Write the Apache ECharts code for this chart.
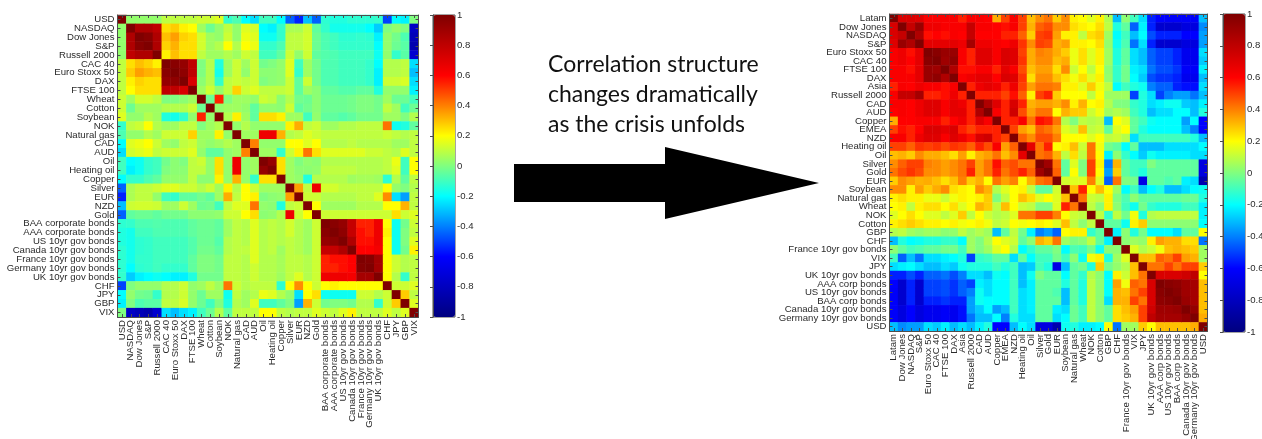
<!DOCTYPE html>
<html>
<head>
<meta charset="utf-8">
<title>Correlation structure</title>
<style>
  html, body { margin: 0; padding: 0; background: #fff; }
  #chart { width: 1262px; height: 439px; }
</style>
<script src="https://cdn.jsdelivr.net/npm/echarts@6/dist/echarts.min.js"></script>
</head>
<body>
<div id="chart"></div>
<script>
// left panel: assets in the order of the picture
var leftLabels = ['USD','NASDAQ','Dow Jones','S&P','Russell 2000','CAC 40','Euro Stoxx 50','DAX','FTSE 100','Wheat','Cotton','Soybean','NOK','Natural gas','CAD','AUD','Oil','Heating oil','Copper','Silver','EUR','NZD','Gold','BAA corporate bonds','AAA corporate bonds','US 10yr gov bonds','Canada 10yr gov bonds','France 10yr gov bonds','Germany 10yr gov bonds','UK 10yr gov bonds','CHF','JPY','GBP','VIX'];
// right panel
var rightLabels = ['Latam','Dow Jones','NASDAQ','S&P','Euro Stoxx 50','CAC 40','FTSE 100','DAX','Asia','Russell 2000','CAD','AUD','Copper','EMEA','NZD','Heating oil','Oil','Silver','Gold','EUR','Soybean','Natural gas','Wheat','NOK','Cotton','GBP','CHF','France 10yr gov bonds','VIX','JPY','UK 10yr gov bonds','AAA corp bonds','US 10yr gov bonds','BAA corp bonds','Canada 10yr gov bonds','Germany 10yr gov bonds','USD'];
var barTicks = [-1, -0.8, -0.6, -0.4, -0.2, 0, 0.2, 0.4, 0.6, 0.8, 1];

// correlations above the diagonal, one row per asset
var leftUpper = [
  [.03,.03,.03,.03,.1,.1,.1,.1,.12,.12,.15,-.12,-.08,-.2,-.25,-.1,-.1,-.2,-.45,-.55,-.3,-.45,-.13,-.15,-.15,-.13,-.13,-.13,-.12,-.5,-.2,-.22,0],
  [.85,.85,.8,.25,.28,.22,.2,.05,-.03,.03,.1,.03,.15,.13,-.2,-.22,-.12,.07,.07,.12,-.05,-.12,-.17,-.17,-.17,-.17,-.2,-.28,0,.03,0,-.78],
  [.97,.85,.3,.35,.27,.25,.13,.05,.03,.12,.03,.17,.15,-.18,-.18,-.12,.1,.1,.13,-.03,-.08,-.1,-.13,-.13,-.12,-.13,-.22,.03,-.02,-.08,-.82],
  [.85,.27,.32,.25,.25,.13,.05,.08,.2,.08,.2,.17,-.12,-.12,-.08,.1,.1,.13,-.03,-.08,-.1,-.12,-.12,-.12,-.12,-.2,.03,-.03,-.06,-.85],
  [.22,.3,.25,.25,.1,.05,.05,.08,.05,.12,.1,-.1,-.1,-.05,.12,.03,.12,-.05,-.07,-.08,-.1,-.1,-.1,-.1,-.18,.03,-.12,-.06,-.75],
  [.97,.93,.8,0,.08,-.15,.05,.12,.05,.12,-.02,0,.03,.15,-.1,.05,-.02,-.08,-.08,-.1,-.1,-.1,-.12,-.2,.08,.08,.1,-.25],
  [.95,.8,0,.08,-.17,.05,.12,.03,.12,.02,.02,.03,.15,-.12,.05,-.02,-.08,-.08,-.1,-.1,-.1,-.12,-.22,.08,.08,.1,-.3],
  [.72,.02,.08,-.12,.1,.12,.1,.12,0,.02,.03,.12,-.05,.12,-.02,-.08,-.08,-.1,-.1,-.1,-.12,-.22,.12,.12,.14,-.25],
  [.05,.12,.03,.1,.27,.12,.15,.1,.1,.1,.12,-.05,.05,.02,-.05,-.05,-.07,-.07,-.05,-.05,-.15,.03,.03,.03,-.22],
  [-.03,.55,0,.05,.05,.03,.12,.1,.02,.08,-.02,-.03,.02,-.03,-.03,-.03,-.02,0,0,-.02,.05,-.03,-.03,-.1],
  [.03,.05,.05,.03,-.05,.03,.03,.02,.12,-.05,-.02,.02,-.03,-.03,-.03,-.02,0,0,-.02,.1,.05,-.1,-.03],
  [.08,.22,.05,-.05,.25,.25,.22,.05,.05,-.1,.03,-.05,-.05,-.07,-.05,-.02,-.02,-.02,.05,.05,0,.08],
  [.03,.08,.03,.03,.03,.03,.22,.33,.1,.12,.05,.05,.08,.08,.1,.1,.1,.42,-.18,-.15,-.05],
  [.05,.05,.65,.65,.32,.08,.1,.15,.12,.1,.1,.1,.1,.1,.1,.1,.12,.1,.08,.1],
  [.4,.03,.03,.03,.2,.2,.15,.2,.08,.08,.08,.1,.08,.08,.08,.08,.05,.05,.1],
  [.05,.05,-.12,.12,.22,.42,.25,.15,.15,.15,.15,.15,.12,.12,.1,.08,.15,.1],
  [.93,.25,.05,0,.03,.02,.08,.08,.08,.08,.08,.08,.08,.1,.17,-.1,.2],
  [.25,.05,.02,.02,.03,.1,.1,.1,.1,.08,.08,.08,.1,.15,-.1,.2],
  [.05,.03,-.15,.08,.08,.08,.08,.05,.06,.06,.05,-.13,.08,-.05,.1],
  [.35,.1,.65,.13,.13,.1,.1,.1,.1,.1,.2,.03,0,.08],
  [.12,.12,.08,.08,.08,.08,.1,.1,.15,.38,-.25,-.35,.1],
  [.2,.05,.05,.05,.05,.08,.08,.08,.2,.2,.32,.1],
  [.12,.12,.12,.12,.12,.12,.12,.12,.25,.12,.15],
  [.97,.93,.78,.55,.55,.65,.2,-.18,-.02,.12],
  [.95,.78,.58,.55,.65,.22,-.18,0,.1],
  [.85,.58,.58,.65,.2,-.18,0,.15],
  [.6,.6,.63,.2,-.18,-.02,.22],
  [.98,.88,.2,.12,.08,.1],
  [.88,.2,.12,.08,.1],
  [.2,.08,-.12,.1],
  [.12,.12,.15],
  [.28,.1],
  [.15]
];
var rightUpper = [
  [.72,.72,.7,.62,.62,.62,.62,.55,.62,.62,.6,.33,.5,.62,.5,.3,.38,.42,.28,.38,.22,.2,.15,.22,.08,-.3,.02,-.1,-.25,-.55,-.6,-.62,-.62,-.62,-.62,-.3],
  [.78,.92,.65,.65,.62,.62,.62,.78,.62,.62,.6,.58,.62,.5,.32,.45,.48,.38,.38,.25,.22,.2,.25,.1,-.15,-.05,-.45,-.22,-.55,-.75,-.75,-.75,-.7,-.7,-.38],
  [.85,.58,.6,.58,.62,.6,.78,.6,.6,.6,.55,.55,.45,.28,.5,.52,.35,.22,.22,.1,.25,.28,.05,-.2,-.1,-.3,-.2,-.48,-.55,-.55,-.55,-.6,-.6,-.35],
  [.68,.68,.68,.68,.65,.88,.65,.65,.62,.6,.65,.52,.38,.5,.48,.32,.35,.22,.22,.2,.25,.03,-.18,-.08,-.42,-.25,-.55,-.75,-.75,-.75,-.7,-.7,-.35],
  [.97,.92,.92,.62,.55,.7,.7,.62,.72,.7,.5,.33,.4,.38,.33,.28,.17,.25,.15,.22,.05,-.15,-.05,-.25,-.3,-.45,-.5,-.5,-.55,-.65,-.65,-.25],
  [.9,.95,.62,.55,.7,.7,.62,.72,.7,.52,.33,.38,.38,.3,.33,.17,.25,.15,.22,.05,-.15,-.05,-.25,-.3,-.45,-.5,-.5,-.55,-.65,-.65,-.28],
  [.85,.58,.58,.62,.62,.55,.68,.62,.48,.3,.35,.35,.25,.38,.12,.2,.1,.2,.02,-.12,-.02,-.22,-.25,-.42,-.48,-.48,-.52,-.62,-.62,-.22],
  [.62,.65,.68,.68,.6,.72,.7,.52,.25,.38,.38,.3,.25,.18,.25,.15,.22,.03,-.12,-.02,-.2,-.28,-.48,-.52,-.52,-.55,-.65,-.65,-.3],
  [.55,.65,.68,.65,.55,.65,.5,.35,.42,.42,.4,.22,.22,.15,.28,.18,.1,-.2,-.1,-.15,-.18,-.4,-.45,-.45,-.55,-.58,-.58,-.25],
  [.55,.55,.55,.5,.58,.45,.22,.5,.55,.28,.2,.2,.2,.1,.2,.05,.05,.05,-.5,-.15,-.25,-.5,-.4,-.35,-.35,-.42,-.3],
  [.85,.7,.55,.72,.55,.32,.35,.35,.32,.38,.22,.32,.2,.22,.08,0,0,-.12,-.15,-.25,-.22,-.18,-.18,-.28,-.3,-.22],
  [.62,.55,.75,.48,.35,.42,.42,.2,.32,.28,.28,.12,.18,.05,.08,.05,-.1,-.15,-.3,-.25,-.25,-.2,-.2,-.3,-.15],
  [.55,.55,.62,.42,.58,.55,.42,.08,0,.1,.08,.1,-.3,.2,.15,-.05,-.1,-.18,-.2,-.2,-.2,-.35,-.2,-.6],
  [.5,.35,.3,.45,.42,.35,.15,.1,.3,.1,.12,-.05,.15,.2,-.05,-.15,-.2,-.2,-.2,-.2,-.3,-.4,-.6],
  [.45,.38,.48,.48,.4,.2,.2,.2,.15,.2,.1,.12,.08,-.25,-.1,-.1,-.1,-.1,-.1,-.1,-.15,-.3],
  [.68,.42,.55,.2,.22,.3,.12,.42,.18,-.02,-.05,-.2,-.05,-.3,-.3,-.3,-.25,-.25,-.25,-.25,-.2],
  [.42,.45,.32,.1,.25,.1,.42,.2,-.22,.02,-.12,-.2,-.28,-.18,-.22,-.22,-.22,-.22,-.25,-.25],
  [.9,.42,-.05,.15,0,.5,.22,-.4,.32,-.05,-.1,-.1,0,-.05,-.05,-.05,-.05,-.05,-.7],
  [.45,-.05,.2,0,.5,.2,-.35,.28,-.05,-.1,-.15,-.05,-.05,-.05,-.05,-.05,-.05,-.7],
  [.13,.15,.15,.4,.15,-.45,.42,0,-.02,-.68,-.05,-.05,-.08,-.05,-.22,-.25,-.85],
  [.3,.55,.2,.3,.2,.05,-.2,-.1,-.3,-.2,-.15,-.3,-.3,-.25,-.2,-.18],
  [.42,.12,.1,.22,0,-.08,.02,-.05,-.05,-.05,-.05,-.05,-.03,-.03,-.15],
  [.1,.02,.22,.02,-.1,-.18,-.02,-.12,-.15,-.15,-.15,-.1,-.1,-.22],
  [.1,-.12,.1,-.02,.18,-.15,.08,.1,.1,.1,.1,.1,-.22],
  [-.05,-.05,-.18,.22,.28,.02,.02,.02,.02,.02,.02,-.2],
  [-.22,.02,-.15,-.02,-.2,-.2,-.2,-.25,-.05,-.05,.2],
  [.02,.05,.03,.22,.35,.32,.32,.25,.25,-.42],
  [.15,.08,.12,.18,.3,.32,.3,.28,.05],
  [.3,.3,.45,.42,.5,.35,.32,.05],
  [.42,.42,.5,.42,.5,.5,.28],
  [.72,.72,.72,.75,.8,.2],
  [.97,.95,.9,.88,.3],
  [.97,.9,.88,.3],
  [.92,.88,.3],
  [.93,.3],
  [.33]
];

var jet = ['#00007f', '#0000ff', '#00ffff', '#ffff00', '#ff0000', '#7f0000'];
var lineColor = '#4d4d4d';
var labelFont = { fontFamily: 'Liberation Sans', fontSize: 9.6, color: '#2b2b2b' };

// the upper triangle is mirrored, the diagonal is 1
function cells(upper) {
  var out = [];
  var n = upper.length + 1;
  for (var i = 0; i < n; i++) {
    out.push([i, i, 1]);
    var row = upper[i] || [];
    for (var k = 0; k < row.length; k++) {
      out.push([i + k + 1, i, row[k]]);
      out.push([i, i + k + 1, row[k]]);
    }
  }
  return out;
}

function catAxis(labels, grid, position, showLabels, inverse) {
  var vertical = position === 'bottom' || position === 'top';
  return {
    type: 'category',
    gridIndex: grid,
    position: position,
    data: labels,
    inverse: inverse,
    z: 5,
    axisLine: { show: true, onZero: false, lineStyle: { color: lineColor, width: 1 } },
    axisTick: { show: true, inside: true, length: 3, alignWithLabel: true, interval: 0, lineStyle: { color: lineColor } },
    axisLabel: Object.assign({ show: showLabels, interval: 0, margin: 3, rotate: vertical ? 90 : 0 }, labelFont),
    splitLine: { show: false }
  };
}

function barAxis(grid) {
  return {
    type: 'value',
    gridIndex: grid,
    position: 'right',
    min: -1,
    max: 1,
    interval: 0.2,
    z: 10,
    axisLine: { show: true, lineStyle: { color: lineColor } },
    axisTick: { show: true, inside: true, length: 3, lineStyle: { color: lineColor } },
    axisLabel: Object.assign({ margin: 2, customValues: barTicks }, labelFont),
    splitLine: { show: false }
  };
}

function heat(xIndex, yIndex, data) {
  return {
    type: 'heatmap',
    xAxisIndex: xIndex,
    yAxisIndex: yIndex,
    data: data,
    silent: true,
    progressive: 0,
    itemStyle: { borderWidth: 0 },
    emphasis: { disabled: true }
  };
}

function colourBar(seriesIndex, left, top, height) {
  return {
    type: 'continuous',
    seriesIndex: seriesIndex,
    min: -1,
    max: 1,
    calculable: false,
    hoverLink: false,
    left: left,
    top: top,
    itemWidth: 22,
    itemHeight: height,
    padding: 0,
    text: null,
    inRange: { color: jet }
  };
}

var chart = echarts.init(document.getElementById('chart'));

chart.setOption({
  animation: false,
  backgroundColor: '#ffffff',
  grid: [
    { left: 117.5, top: 15, width: 301, height: 302, outerBoundsMode: 'none' },
    { left: 889.5, top: 14, width: 318, height: 317, outerBoundsMode: 'none' },
    { left: 433, top: 15, width: 22, height: 302, show: true, backgroundColor: 'transparent', borderColor: lineColor, outerBoundsMode: 'none' },
    { left: 1223, top: 14, width: 22, height: 318, show: true, backgroundColor: 'transparent', borderColor: lineColor, outerBoundsMode: 'none' }
  ],
  xAxis: [
    catAxis(leftLabels, 0, 'bottom', true, false),
    catAxis(leftLabels, 0, 'top', false, false),
    catAxis(rightLabels, 1, 'bottom', true, false),
    catAxis(rightLabels, 1, 'top', false, false),
    { type: 'value', gridIndex: 2, show: false, min: 0, max: 1 },
    { type: 'value', gridIndex: 3, show: false, min: 0, max: 1 }
  ],
  yAxis: [
    catAxis(leftLabels, 0, 'left', true, true),
    catAxis(leftLabels, 0, 'right', false, true),
    catAxis(rightLabels, 1, 'left', true, true),
    catAxis(rightLabels, 1, 'right', false, true),
    barAxis(2),
    barAxis(3)
  ],
  visualMap: [
    colourBar(0, 433, 15, 302),
    colourBar(1, 1223, 14, 318)
  ],
  series: [
    heat(0, 0, cells(leftUpper)),
    heat(2, 2, cells(rightUpper))
  ],
  graphic: [
    {
      type: 'polygon',
      shape: { points: [[514, 164], [665, 164], [665, 147], [819, 183], [665, 219], [665, 202], [514, 202]] },
      style: { fill: '#000' }
    },
    {
      type: 'text', left: 548, top: 50,
      style: { text: 'Correlation structure\nchanges dramatically\nas the crisis unfolds', fill: '#111', font: '23px Lato', lineHeight: 30 }
    }
  ]
});
</script>
</body>
</html>
